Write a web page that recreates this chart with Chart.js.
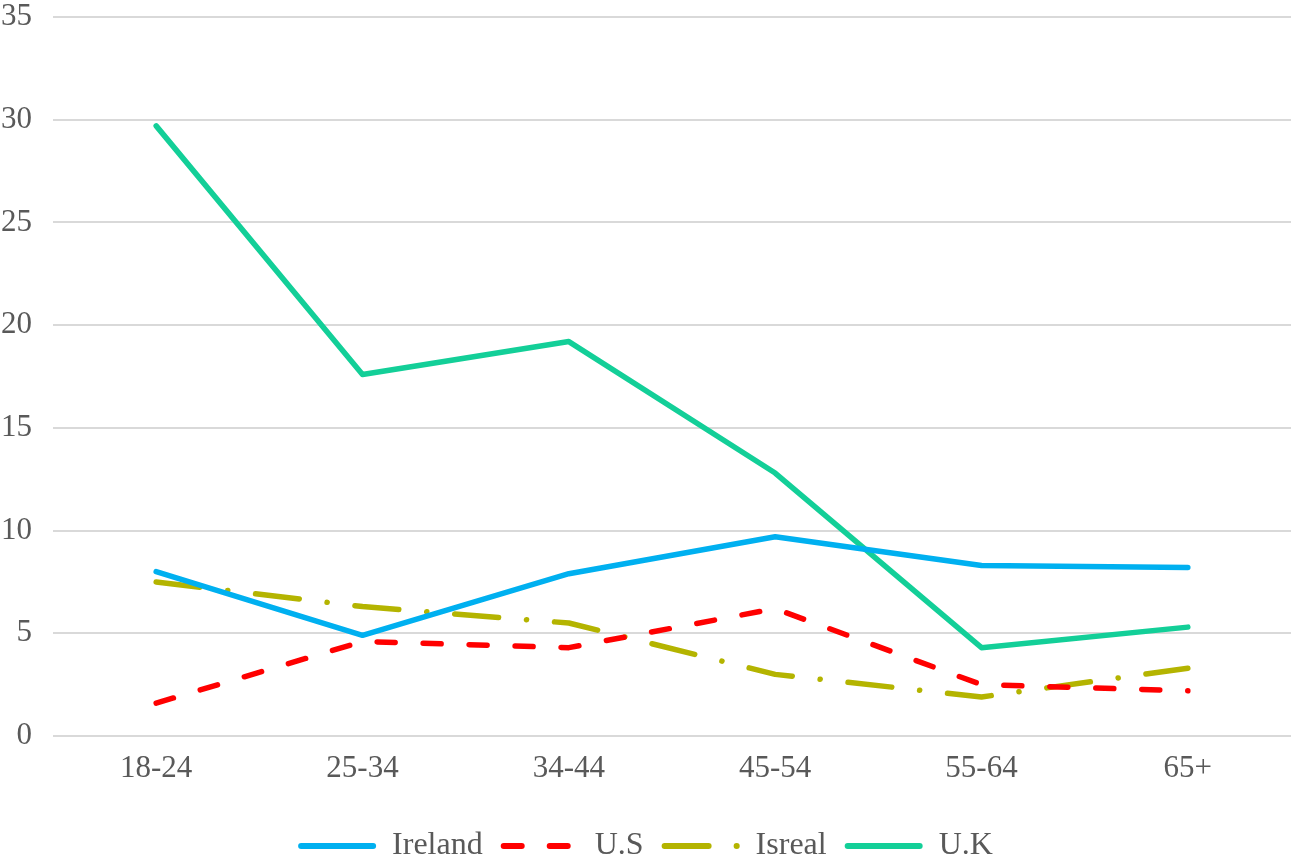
<!DOCTYPE html>
<html>
<head>
    <title>Age groups by country</title>
    <script src="https://cdn.jsdelivr.net/npm/chart.js"></script>
    <style>
        html, body { margin: 0; padding: 0; background: #fff; }
    </style>
</head>
<body>
    <canvas id="ageChart" width="1291" height="863"></canvas>

    <script>
        // Data
        const ageGroups = ['18-24', '25-34', '34-44', '45-54', '55-64', '65+'];
        const ireland = [8.0, 4.9, 7.9, 9.7, 8.3, 8.2];
        const us = [1.6, 4.6, 4.3, 6.2, 2.5, 2.2];
        const isreal = [7.5, 6.3, 5.5, 3.0, 1.9, 3.3];
        const uk = [29.7, 17.6, 19.2, 12.8, 4.3, 5.3];

        const fontFamily = "'Liberation Serif', 'Times New Roman', serif";
        const textColor = '#595959';
        const legendLineWidth = 78;

        function lineSet(label, data, color, dash) {
            return {
                label: label,
                data: data,
                borderColor: color,
                backgroundColor: color,
                borderWidth: 5.5,
                borderDash: dash,
                borderCapStyle: 'round',
                borderJoinStyle: 'round',
                pointRadius: 0,
                pointHoverRadius: 0,
                tension: 0,
                fill: false
            };
        }

        // legend sample lines are drawn here so they keep the dash pattern
        const legendLines = {
            id: 'legendLines',
            afterDraw(chart) {
                const boxes = chart.legend.legendHitBoxes;
                const c = chart.ctx;
                chart.data.datasets.forEach((ds, i) => {
                    const b = boxes[i];
                    if (!b) return;
                    const y = b.top + b.height / 2;
                    const end = b.left + legendLineWidth - (ds.borderDash.length ? 0 : 3);
                    c.save();
                    c.strokeStyle = ds.borderColor;
                    c.lineWidth = 6;
                    c.lineCap = 'round';
                    c.setLineDash(ds.borderDash);
                    c.beginPath();
                    c.moveTo(b.left + 3, y);
                    c.lineTo(end, y);
                    c.stroke();
                    c.restore();
                });
            }
        };

        const ctx = document.getElementById('ageChart').getContext('2d');
        const chart = new Chart(ctx, {
            type: 'line',
            data: {
                labels: ageGroups,
                datasets: [
                    lineSet('Ireland', ireland, '#00B0F0', []),
                    lineSet('U.S', us, '#FF0000', [18, 28]),
                    lineSet('Isreal', isreal, '#B4B400', [44, 28, 0.1, 28]),
                    lineSet('U.K', uk, '#13CF98', [])
                ]
            },
            options: {
                responsive: false,
                animation: false,
                layout: { padding: { top: 17, right: 0, left: 0, bottom: -9 } },
                plugins: {
                    tooltip: { enabled: false },
                    legend: {
                        position: 'bottom',
                        labels: {
                            usePointStyle: true,
                            pointStyle: 'line',
                            pointStyleWidth: legendLineWidth,
                            boxHeight: 32,
                            padding: 18,
                            color: textColor,
                            font: { family: fontFamily, size: 32 },
                            generateLabels: function (chart) {
                                const items = Chart.defaults.plugins.legend.labels.generateLabels(chart);
                                items.forEach(item => { item.strokeStyle = 'rgba(0,0,0,0)'; });
                                return items;
                            }
                        }
                    }
                },
                scales: {
                    x: {
                        offset: true,
                        afterFit: function (scale) { scale.height = 76; },
                        grid: { display: false },
                        border: { display: false },
                        ticks: {
                            color: textColor,
                            padding: 6,
                            font: { family: fontFamily, size: 31 }
                        }
                    },
                    y: {
                        min: 0,
                        max: 35,
                        afterFit: function (scale) {
                            scale.width = 53;
                            scale.paddingTop = 0;
                            scale.paddingBottom = 0;
                        },
                        grid: { color: '#D9D9D9', lineWidth: 2, drawTicks: false },
                        border: { display: false },
                        ticks: {
                            stepSize: 5,
                            color: textColor,
                            padding: 21,
                            font: { family: fontFamily, size: 31 }
                        }
                    }
                }
            },
            plugins: [legendLines]
        });
    </script>
</body>
</html>
